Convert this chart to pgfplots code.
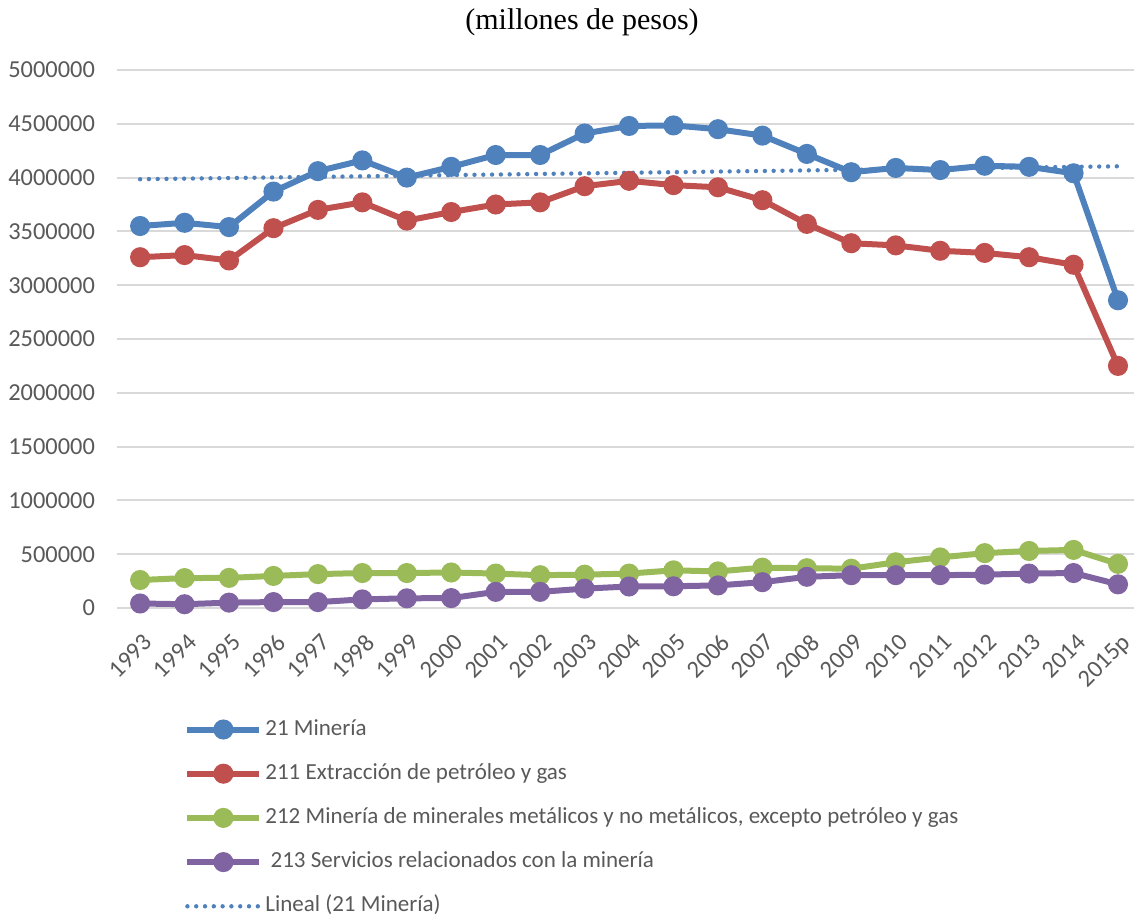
\documentclass[border=0pt]{standalone}
\usepackage{fontspec}
\setmainfont{Carlito}
\newfontfamily\titlefont{Liberation Serif}
\usepackage{pgfplots}
\pgfplotsset{compat=1.18}
\definecolor{cBlue}{HTML}{4F81BD}
\definecolor{cRed}{HTML}{C0504D}
\definecolor{cGreen}{HTML}{9BBB59}
\definecolor{cPurple}{HTML}{8064A2}
\definecolor{cGrid}{HTML}{D9D9D9}
\definecolor{cText}{HTML}{595959}

\begin{document}
\begin{tikzpicture}
\useasboundingbox (-58.5pt,-156pt) rectangle (508.5pt,304pt);
\begin{axis}[
    scale only axis,
    width=508.5pt, height=269pt,
    xmin=-0.52, xmax=22.36,
    ymin=0, ymax=5000000,
    ytick={0,500000,1000000,1500000,2000000,2500000,3000000,3500000,4000000,4500000,5000000},
    xtick={0,...,22},
    xticklabels={1993,1994,1995,1996,1997,1998,1999,2000,2001,2002,2003,2004,2005,2006,2007,2008,2009,2010,2011,2012,2013,2014,2015p},
    scaled y ticks=false,
    /pgf/number format/assume math mode=true,
    yticklabel style={/pgf/number format/fixed, /pgf/number format/1000 sep={}, xshift=-7.5pt},
    xticklabel style={rotate=45, anchor=north east, xshift=-4.5pt, yshift=-6pt},
    tick label style={font=\fontsize{12.2}{14}\selectfont, text=cText},
    axis line style={draw=none},
    major tick length=0pt,
    ymajorgrids,
    grid style={cGrid, line width=1pt},
    clip=false,
    legend cell align=left,
    legend style={at={(0.0659,-0.200)}, anchor=north west, draw=none, fill=none,
        font=\fontsize{11.5}{13}\selectfont, text=cText, row sep=8.6pt, inner sep=0pt,
        nodes={inner sep=1.5pt, text height=8pt, text depth=2.5pt}},
    legend image code/.code={\draw[mark repeat=2, mark phase=2, #1] plot coordinates {(0pt,0pt) (18pt,0pt) (36pt,0pt)};},
    every axis plot/.append style={line width=3pt, mark=*, mark size=3.5pt, mark options={solid}},
]

% 21 Mineria
\addplot[cBlue] coordinates {
(0,3550000) (1,3580000) (2,3540000) (3,3870000) (4,4060000) (5,4160000)
(6,4000000) (7,4100000) (8,4210000) (9,4210000) (10,4410000) (11,4480000)
(12,4485000) (13,4450000) (14,4390000) (15,4220000) (16,4050000) (17,4090000)
(18,4070000) (19,4110000) (20,4100000) (21,4040000) (22,2860000)
};
\addlegendentry{21 Minería}

% 211 Extraccion de petroleo y gas
\addplot[cRed] coordinates {
(0,3260000) (1,3280000) (2,3230000) (3,3530000) (4,3700000) (5,3770000)
(6,3600000) (7,3680000) (8,3750000) (9,3770000) (10,3920000) (11,3970000)
(12,3930000) (13,3910000) (14,3790000) (15,3570000) (16,3390000) (17,3370000)
(18,3320000) (19,3300000) (20,3260000) (21,3190000) (22,2250000)
};
\addlegendentry{211 Extracción de petróleo y gas}

% 212 Mineria de minerales metalicos y no metalicos
\addplot[cGreen] coordinates {
(0,260000) (1,278000) (2,280000) (3,298000) (4,315000) (5,325000)
(6,325000) (7,330000) (8,320000) (9,305000) (10,310000) (11,320000)
(12,350000) (13,340000) (14,375000) (15,370000) (16,365000) (17,425000)
(18,470000) (19,510000) (20,530000) (21,540000) (22,410000)
};
\addlegendentry{212 Minería de minerales metálicos y no metálicos, excepto petróleo y gas}

% 213 Servicios relacionados con la mineria
\addplot[cPurple] coordinates {
(0,42000) (1,35000) (2,50000) (3,55000) (4,55000) (5,80000)
(6,90000) (7,92000) (8,150000) (9,150000) (10,180000) (11,200000)
(12,202000) (13,210000) (14,240000) (15,290000) (16,305000) (17,305000)
(18,305000) (19,310000) (20,320000) (21,325000) (22,220000)
};
\addlegendentry{\ 213 Servicios relacionados con la minería}

% Lineal (21 Mineria)
\addplot[cBlue, mark=none, line width=2.2pt, line cap=round, dash pattern=on 0pt off 4.4pt] coordinates {
(0,3985000) (22,4105000)
};
\addlegendentry{Lineal (21 Minería)}

\end{axis}
\node[font=\titlefont\fontsize{15}{18}\selectfont, text=black] at (232.5pt,293pt) {(millones de pesos)};
\end{tikzpicture}
\end{document}
